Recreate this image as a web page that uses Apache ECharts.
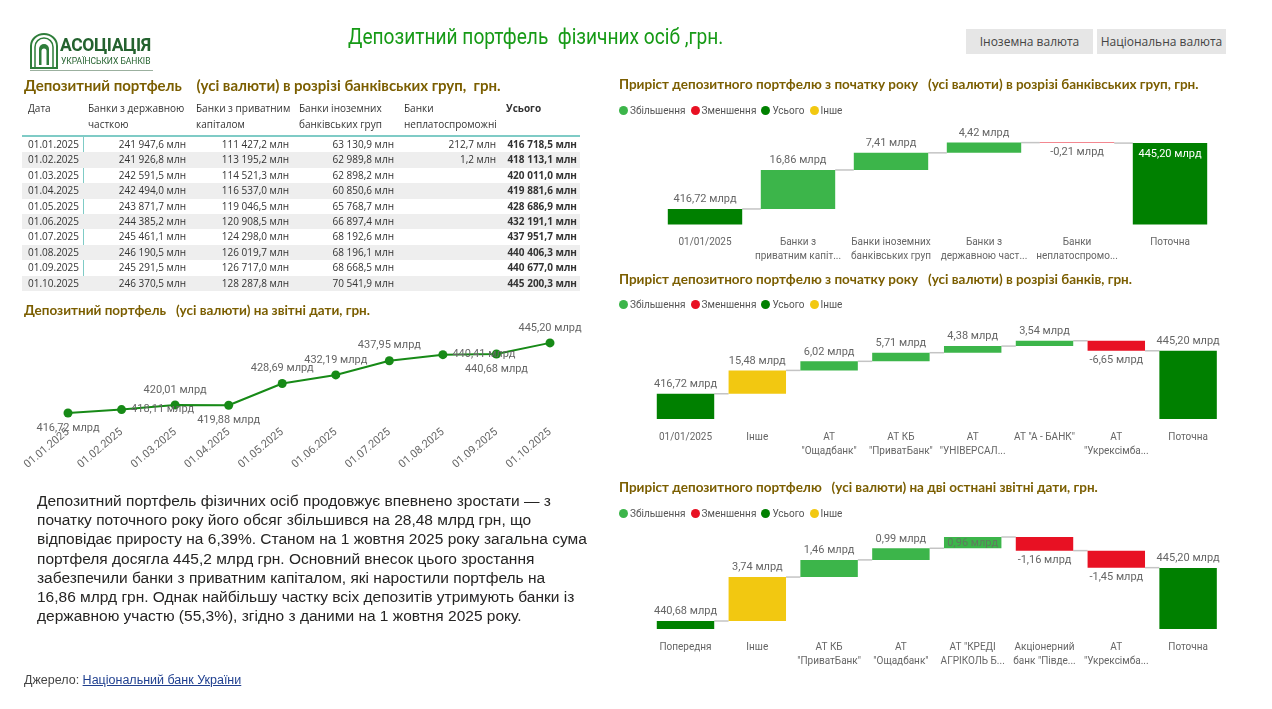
<!DOCTYPE html>
<html><head><meta charset="utf-8">
<script src="https://cdn.jsdelivr.net/npm/echarts@6/dist/echarts.min.js"></script>
<style>
body{margin:0;width:1272px;height:709px;overflow:hidden;background:#fff;font-family:'Open Sans',sans-serif;}
#chart{position:absolute;left:0;top:0;width:1272px;height:709px;}
.abs{position:absolute;white-space:pre;}
.sec{font-family:Lato,sans-serif;font-weight:700;font-size:13.5px;color:#7b5e00;}
.leg{position:absolute;font-family:Roboto,sans-serif;font-size:10px;color:#555;white-space:pre;}
.leg span.d{display:inline-block;width:9px;height:9px;border-radius:50%;margin-right:2px;vertical-align:-1px;}
.leg span.t{margin-right:5px;}
.btn{position:absolute;top:29px;height:25px;background:#e6e6e6;font-size:12px;color:#444;text-align:center;line-height:25px;}
#tbl{position:absolute;left:22px;top:98px;width:558px;font-size:10px;color:#333;}
#tbl .row{position:absolute;left:0;width:558px;height:15.4px;}
#tbl .cell{position:absolute;top:0;height:15.4px;line-height:15.4px;white-space:nowrap;}
#tbl .hd{position:absolute;top:0;line-height:16px;color:#333;}
#para{position:absolute;left:37px;top:491px;font-family:'Liberation Sans',Arial,sans-serif;font-size:15.5px;line-height:19.2px;color:#252423;white-space:pre;}
</style></head><body>
<div id="chart"></div>

<!-- logo -->
<svg class="abs" style="left:29px;top:32px" width="30" height="38" viewBox="0 0 30 38">
  <path d="M2,36 V14 A13,12 0 0 1 28,14 V36 Z" fill="none" stroke="#2e7d3a" stroke-width="2"/>
  <path d="M6,36 V15 A9,9 0 0 1 24,15 V36" fill="none" stroke="#2e7d3a" stroke-width="1.5"/>
  <path d="M10,33 V17 A5,5 0 0 1 20,17 V33 Z" fill="#2e7d3a"/>
  <path d="M12.5,33 V19 A2.5,2.5 0 0 1 17.5,19 V33 Z" fill="#fff"/>
</svg>
<div class="abs" style="left:60px;top:35px;font-family:Roboto,sans-serif;font-weight:700;font-size:17.5px;color:#24622f;letter-spacing:-0.4px;">АСОЦІАЦІЯ</div>
<div class="abs" style="left:61px;top:56px;font-family:Roboto,sans-serif;font-size:8.5px;color:#24622f;">УКРАЇНСЬКИХ БАНКІВ</div>
<div class="abs" style="left:30px;top:70px;width:123px;height:1px;background:#9bb09f;"></div>

<div class="abs" id="mainTitle" style="left:348px;top:24px;font-family:Roboto,sans-serif;font-size:22px;color:#169a16;transform:scaleX(0.87);transform-origin:0 0;">Депозитний портфель  фізичних осіб ,грн.</div>

<div class="btn" style="left:966px;width:127px;">Іноземна валюта</div>
<div class="btn" style="left:1097px;width:129px;">Національна валюта</div>

<div class="abs sec" style="left:24px;top:76px;font-size:15px;">Депозитний портфель    (усі валюти) в розрізі банківських груп,  грн.</div>
<div id="tbl"></div>
<div class="abs sec" style="left:24px;top:302px;">Депозитний портфель   (усі валюти) на звітні дати, грн.</div>

<div id="para">Депозитний портфель фізичних осіб продовжує впевнено зростати — з
початку поточного року його обсяг збільшився на 28,48 млрд грн, що
відповідає приросту на 6,39%. Станом на 1 жовтня 2025 року загальна сума
портфеля досягла 445,2 млрд грн. Основний внесок цього зростання
забезпечили банки з приватним капіталом, які наростили портфель на
16,86 млрд грн. Однак найбільшу частку всіх депозитів утримують банки із
державною участю (55,3%), згідно з даними на 1 жовтня 2025 року.</div>

<div class="abs" style="left:24px;top:673px;font-family:'Liberation Sans',Arial,sans-serif;font-size:12.5px;color:#444;">Джерело: <span style="color:#1f3f8f;text-decoration:underline;">Національний банк України</span></div>

<div class="abs sec" style="left:619px;top:76px;">Приріст депозитного портфелю з початку року   (усі валюти) в розрізі банківських груп, грн.</div>
<div class="abs sec" style="left:619px;top:271px;">Приріст депозитного портфелю з початку року   (усі валюти) в розрізі банків, грн.</div>
<div class="abs sec" style="left:619px;top:479px;">Приріст депозитного портфелю   (усі валюти) на дві остнані звітні дати, грн.</div>
<div class="leg" id="leg1" style="left:619px;top:105px;"></div>
<div class="leg" id="leg2" style="left:619px;top:299px;"></div>
<div class="leg" id="leg3" style="left:619px;top:508px;"></div>

<script>
// ---------- DATA ----------
const tableHeaders = ['Дата', 'Банки з державною\nчасткою', 'Банки з приватним\nкапіталом', 'Банки іноземних\nбанківських груп', 'Банки\nнеплатоспроможні', 'Усього'];
const tableDates = ['01.01.2025','01.02.2025','01.03.2025','01.04.2025','01.05.2025','01.06.2025','01.07.2025','01.08.2025','01.09.2025','01.10.2025'];
const stateBanks = [241947.6, 241926.8, 242591.5, 242494.0, 243871.7, 244385.2, 245461.1, 246190.5, 245291.5, 246370.5];
const privateBanks = [111427.2, 113195.2, 114521.3, 116537.0, 119046.5, 120908.5, 124298.0, 126019.7, 126717.0, 128287.8];
const foreignBanks = [63130.9, 62989.8, 62898.2, 60850.6, 65768.7, 66897.4, 68192.6, 68196.1, 68668.5, 70541.9];
const insolventBanks = [212.7, 1.2, null, null, null, null, null, null, null, null];
const totalBanks = [416718.5, 418113.1, 420011.0, 419881.6, 428686.9, 432191.1, 437951.7, 440406.3, 440677.0, 445200.3];

const lineDates = ['01.01.2025','01.02.2025','01.03.2025','01.04.2025','01.05.2025','01.06.2025','01.07.2025','01.08.2025','01.09.2025','01.10.2025'];
const lineValues = [416.72, 418.11, 420.01, 419.88, 428.69, 432.19, 437.95, 440.41, 440.68, 445.20];

const legendNames = ['Збільшення','Зменшення','Усього','Інше'];

const wf1Cats = ['01/01/2025', 'Банки з\nприватним капіт...', 'Банки іноземних\nбанківських груп', 'Банки з\nдержавною част...', 'Банки\nнеплатоспромо...', 'Поточна'];
const wf1Vals = [416.72, 16.86, 7.41, 4.42, -0.21, 445.20];
const wf1Kinds = ['total','delta','delta','delta','delta','total'];

const wf2Cats = ['01/01/2025', 'Інше', 'АТ\n"Ощадбанк"', 'АТ КБ\n"ПриватБанк"', 'АТ\n"УНІВЕРСАЛ...', 'АТ "А - БАНК"', 'АТ\n"Укрексімба...', 'Поточна'];
const wf2Vals = [416.72, 15.48, 6.02, 5.71, 4.38, 3.54, -6.65, 445.20];
const wf2Kinds = ['total','other','delta','delta','delta','delta','delta','total'];

const wf3Cats = ['Попередня', 'Інше', 'АТ КБ\n"ПриватБанк"', 'АТ\n"Ощадбанк"', 'АТ "КРЕДІ\nАГРІКОЛЬ Б...', 'Акціонерний\nбанк "Півде...', 'АТ\n"Укрексімба...', 'Поточна'];
const wf3Vals = [440.68, 3.74, 1.46, 0.99, 0.96, -1.16, -1.45, 445.20];
const wf3Kinds = ['total','other','delta','delta','delta','delta','delta','total'];

// ---------- STYLE ----------
const COL = {inc:'#3cb54a', dec:'#e81123', total:'#008000', other:'#f2c811', line:'#178a17'};
const FONT = 'Roboto, sans-serif';

// ---------- TABLE ----------
function fmtM(v){
  if(v===null||v===undefined) return '';
  const parts = v.toFixed(1).split('.');
  const intp = parts[0].replace(/\B(?=(\d{3})+(?!\d))/g, ' ');
  return intp + ',' + parts[1] + ' млн';
}
(function(){
  const tbl = document.getElementById('tbl');
  const colL = [0, 61, 169, 272, 377, 479];
  const colR = [61, 169, 272, 377, 479, 558];
  let html = '';
  tableHeaders.forEach((h,i)=>{
    html += '<div class="hd" style="left:'+(colL[i]+(i===0?6:5))+'px;top:2px;white-space:pre;'+(i===5?'font-weight:700;':'')+'">'+h+'</div>';
  });
  html += '<div style="position:absolute;left:0;top:37px;width:558px;height:1.5px;background:#7fcbc6;"></div>';
  html += '<div style="position:absolute;left:61px;top:38px;width:1px;height:155px;background:#7fcbc6;"></div>';
  const cols = [stateBanks, privateBanks, foreignBanks, insolventBanks, totalBanks];
  tableDates.forEach((d,r)=>{
    const top = 39 + r*15.4;
    html += '<div class="row" style="top:'+top+'px;background:'+(r%2===1?'#eeeeee':'transparent')+'">';
    html += '<div class="cell" style="left:6px;">'+d+'</div>';
    cols.forEach((c,ci)=>{
      const right = 558 - colR[ci+1] + (ci===4?3:5);
      html += '<div class="cell" style="right:'+right+'px;'+(ci===4?'font-weight:700;':'')+'">'+fmtM(c[r])+'</div>';
    });
    html += '</div>';
  });
  tbl.innerHTML = html;
})();

// ---------- LEGENDS ----------
(function(){
  const cols = [COL.inc, COL.dec, COL.total, COL.other];
  let h = '';
  legendNames.forEach((n,i)=>{ h += '<span class="d" style="background:'+cols[i]+'"></span><span class="t">'+n+'</span>'; });
  ['leg1','leg2','leg3'].forEach(id=>document.getElementById(id).innerHTML = h);
})();

// ---------- CHART ----------
function fmtB(v){ return v.toFixed(2).replace('.', ',') + ' млрд'; }

const grids = [
  {left:68, right:722, top:336, bottom:284.4},          // line
  {left:658.5, right:55.5, top:132, bottom:484.5},      // wf1
  {left:649.6, right:48, top:336, bottom:290},          // wf2
  {left:649.6, right:48, top:535, bottom:80}            // wf3
];
const yRanges = [[412,448],[410,450],[400,455],[440,448]];

const xAxes = [], yAxes = [], series = [];

// line chart axes
xAxes.push({type:'category', gridIndex:0, data:lineDates, boundaryGap:false,
  axisLine:{show:false}, axisTick:{show:false},
  axisLabel:{rotate:40, margin:6, fontFamily:FONT, fontSize:11, color:'#666', interval:0}});
yAxes.push({type:'value', gridIndex:0, min:yRanges[0][0], max:yRanges[0][1], show:false, splitLine:{show:false}});
const lineLabelPos = ['bottom','right','top','bottom','top','top','top','right','bottom','top'];
series.push({type:'line', xAxisIndex:0, yAxisIndex:0, symbol:'circle', symbolSize:9,
  lineStyle:{color:COL.line, width:2}, itemStyle:{color:COL.line},
  label:{show:true, fontFamily:FONT, fontSize:11, color:'#666', formatter:p=>fmtB(lineValues[p.dataIndex]), distance:5},
  data: lineValues.map((v,i)=>({value:v, label:{position:lineLabelPos[i]}}))
});

function addWaterfall(idx, cats, vals, kinds, overrides){
  xAxes.push({type:'category', gridIndex:idx, data:cats,
    axisLine:{show:false}, axisTick:{show:false},
    axisLabel:{interval:0, margin:11, fontFamily:FONT, fontSize:10, color:'#666', lineHeight:14}});
  yAxes.push({type:'value', gridIndex:idx, min:yRanges[idx][0], max:yRanges[idx][1], show:false, splitLine:{show:false}});
  const helper = [], vis = [], ends = [];
  let cum = 0;
  vals.forEach((v,i)=>{
    const k = kinds[i];
    if(k==='total'){
      helper.push(0);
      vis.push({value:v, itemStyle:{color:COL.total}, label:{position:'top'}});
      cum = v;
    } else {
      const start = cum; cum = start + v;
      if(v >= 0){
        helper.push(start);
        vis.push({value:v, itemStyle:{color:k==='other'?COL.other:COL.inc}, label:{position:'top'}});
      } else {
        helper.push(cum);
        vis.push({value:-v, itemStyle:{color:COL.dec}, label:{position:'bottom'}});
      }
    }
    ends.push(cum);
  });
  Object.keys(overrides||{}).forEach(k=>{ vis[k].label = Object.assign({}, vis[k].label, overrides[k]); });
  series.push({type:'custom', xAxisIndex:idx, yAxisIndex:idx, z:1, silent:true,
    data: ends.slice(0,-1).map((e,i)=>[i,e]),
    renderItem:(params, api)=>{
      const i = api.value(0), lvl = api.value(1);
      const p0 = api.coord([i, lvl]), p1 = api.coord([i+1, lvl]);
      const bw = api.size([1,0])[0]*0.8;
      return {type:'line', shape:{x1:p0[0]+bw/2, y1:p0[1], x2:p1[0]-bw/2, y2:p1[1]},
        style:{stroke:'#c4c4c4', lineWidth:1.5}};
    }});
  series.push({type:'bar', xAxisIndex:idx, yAxisIndex:idx, stack:'wf'+idx, data:helper,
    itemStyle:{color:'rgba(0,0,0,0)'}, silent:true, barCategoryGap:'20%', z:2});
  series.push({type:'bar', xAxisIndex:idx, yAxisIndex:idx, stack:'wf'+idx, data:vis, barCategoryGap:'20%', z:3,
    label:{show:true, fontFamily:FONT, fontSize:11, color:'#666', distance:4,
      formatter:p=>fmtB(vals[p.dataIndex])}});
}
addWaterfall(1, wf1Cats, wf1Vals, wf1Kinds, {5:{position:'insideTop', color:'#fff', distance:6}});
addWaterfall(2, wf2Cats, wf2Vals, wf2Kinds, {});
addWaterfall(3, wf3Cats, wf3Vals, wf3Kinds, {4:{position:'insideTop', distance:1, color:'#5f7a5f'}});

const chart = echarts.init(document.getElementById('chart'), null, {renderer:'canvas'});
chart.setOption({
  animation:false,
  backgroundColor:'transparent',
  grid: grids,
  xAxis: xAxes,
  yAxis: yAxes,
  series: series
});
</script>
</body></html>
